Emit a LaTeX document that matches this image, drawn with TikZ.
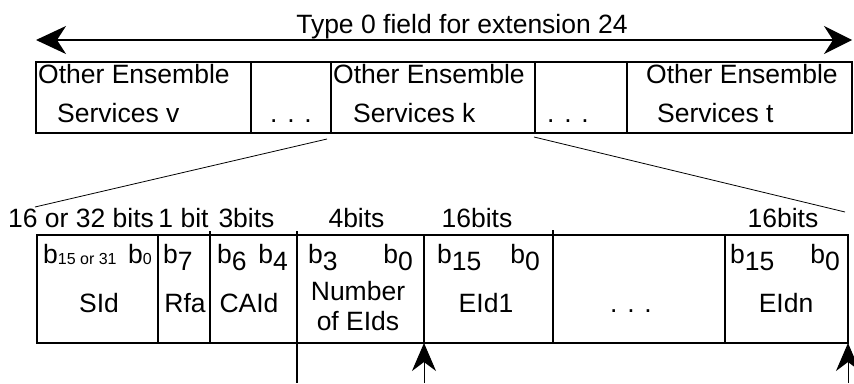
\documentclass[tikz,border=0pt]{standalone}
\usepackage{fontspec}
\setmainfont{Liberation Sans}
\usetikzlibrary{arrows.meta, calc}
\newcommand{\lowd}[1]{\raisebox{-7pt}{#1}}
\newcommand{\smalld}[1]{\raisebox{-1.5pt}{\fontsize{16}{16}\selectfont #1}}
\tikzset{
  cell/.style={draw, line width=1.8pt, inner sep=0pt, outer sep=0pt,
    anchor=north west, minimum height=71pt},
  field/.style={cell, minimum height=108pt},
  txt/.style={font=\fontsize{26.5}{30}\selectfont, inner sep=0pt},
  proj/.style={line width=0.8pt},
  extent/.style={{Stealth[length=30pt, width=28pt, inset=9pt]}-{Stealth[length=28pt, width=28pt, inset=9pt]},
    line width=1.6pt},
  ptr/.style={-{Stealth[length=28pt, width=24pt, inset=9pt]}, line width=1pt},
}
\begin{document}
\begin{tikzpicture}[x=1pt, y=-1pt]
  \fill[white] (0,0) rectangle (854,383);
  \useasboundingbox (0,0) rectangle (854,383);
  % type 0 field
  \coordinate (fl) at (36,40);
  \coordinate (fr) at (852,40);
  \draw[extent] (fl) -- (fr);
  \node[txt, anchor=base] (title) at (462,33) {Type 0 field for extension 24};
  \node[cell, minimum width=215pt] (ev) at (36,62) {};
  \node[cell, minimum width=80pt]  (d1) at (ev.north east) {};
  \node[cell, minimum width=204pt] (ek) at (d1.north east) {};
  \node[cell, minimum width=92pt]  (d2) at (ek.north east) {};
  \node[cell, minimum width=225pt] (et) at (d2.north east) {};
  \node[txt, anchor=base west] (ev1) at (38,83)  {Other Ensemble};
  \node[txt, anchor=base west] (ev2) at (57,122) {Services v};
  \node[txt, anchor=base]      (d1t) at (291,122) {. . .};
  \node[txt, anchor=base west] (ek1) at (333,83)  {Other Ensemble};
  \node[txt, anchor=base west] (ek2) at (353,122) {Services k};
  \node[txt, anchor=base]      (d2t) at (568,122) {. . .};
  \node[txt, anchor=base west] (et1) at (646,83)  {Other Ensemble};
  \node[txt, anchor=base west] (et2) at (657,122) {Services t};
  % zoom onto service k
  \coordinate (kl) at (327,139);
  \coordinate (kr) at (534,137);
  \coordinate (sl) at (35,207);
  \coordinate (sr) at (845,212);
  \draw[proj] (kl) -- (sl);
  \draw[proj] (kr) -- (sr);
  % sizes
  \node[txt, anchor=base] (w1) at (81,227)    {16 or 32 bits};
  \node[txt, anchor=base] (w2) at (183.5,227) {1 bit};
  \node[txt, anchor=base] (w3) at (246.5,227) {3bits};
  \node[txt, anchor=base] (w4) at (356.5,227) {4bits};
  \node[txt, anchor=base] (w5) at (477,227)   {16bits};
  \node[txt, anchor=base] (w6) at (783,227)   {16bits};
  % service fields
  \node[field, minimum width=121pt] (sid)  at (37,235) {};
  \node[field, minimum width=52pt]  (rfa)  at (sid.north east) {};
  \node[field, minimum width=87pt]  (caid) at (rfa.north east) {};
  \node[field, minimum width=127pt] (num)  at (caid.north east) {};
  \node[field, minimum width=129pt] (eid1) at (num.north east) {};
  \node[field, minimum width=172pt] (more) at (eid1.north east) {};
  \node[field, minimum width=123pt] (eidn) at (more.north east) {};
  \draw[line width=1.8pt] (caid.north west) -- ++(0,-4);
  \draw[line width=1.8pt] (num.north west) -- ++(0,-4);
  \draw[line width=1.8pt] (more.north west) -- ++(0,-5);
  % bit positions
  \node[txt, anchor=base west] (sidh) at (43,263)  {b\smalld{15 or 31}};
  \node[txt, anchor=base east] (sidl) at (152,263) {b\smalld{0}};
  \node[txt, anchor=base west] (rfab) at (163,263) {b\lowd{7}};
  \node[txt, anchor=base west] (cah)  at (217,263) {b\lowd{6}};
  \node[txt, anchor=base east] (cal)  at (288,263) {b\lowd{4}};
  \node[txt, anchor=base west] (nh)   at (308,263) {b\lowd{3}};
  \node[txt, anchor=base east] (nl)   at (413,263) {b\lowd{0}};
  \node[txt, anchor=base west] (e1h)  at (437,263) {b\lowd{15}};
  \node[txt, anchor=base east] (e1l)  at (540,263) {b\lowd{0}};
  \node[txt, anchor=base west] (enh)  at (730,263) {b\lowd{15}};
  \node[txt, anchor=base east] (enl)  at (840,263) {b\lowd{0}};
  % field names
  \node[txt, anchor=base] (sidn)  at (99,312)  {SId};
  \node[txt, anchor=base] (rfan)  at (185,312) {Rfa};
  \node[txt, anchor=base] (caidn) at (249,312) {CAId};
  \node[txt, anchor=base] (numn)  at (358,300) {Number};
  \node[txt, anchor=base] (numo)  at (358,330) {of EIds};
  \node[txt, anchor=base] (e1n)   at (486,312) {EId1};
  \node[txt, anchor=base] (moren) at (631,312) {. . .};
  \node[txt, anchor=base] (enn)   at (786,312) {EIdn};
  % pointers below
  \coordinate (nb) at (297,383);
  \coordinate (pa) at (424,383);
  \coordinate (pb) at (848,383);
  \draw[line width=1.8pt] (num.south west) -- (nb);
  \draw[ptr] (pa) -- (eid1.south west);
  \draw[ptr] (pb) -- (eidn.south east);
\end{tikzpicture}
\end{document}
